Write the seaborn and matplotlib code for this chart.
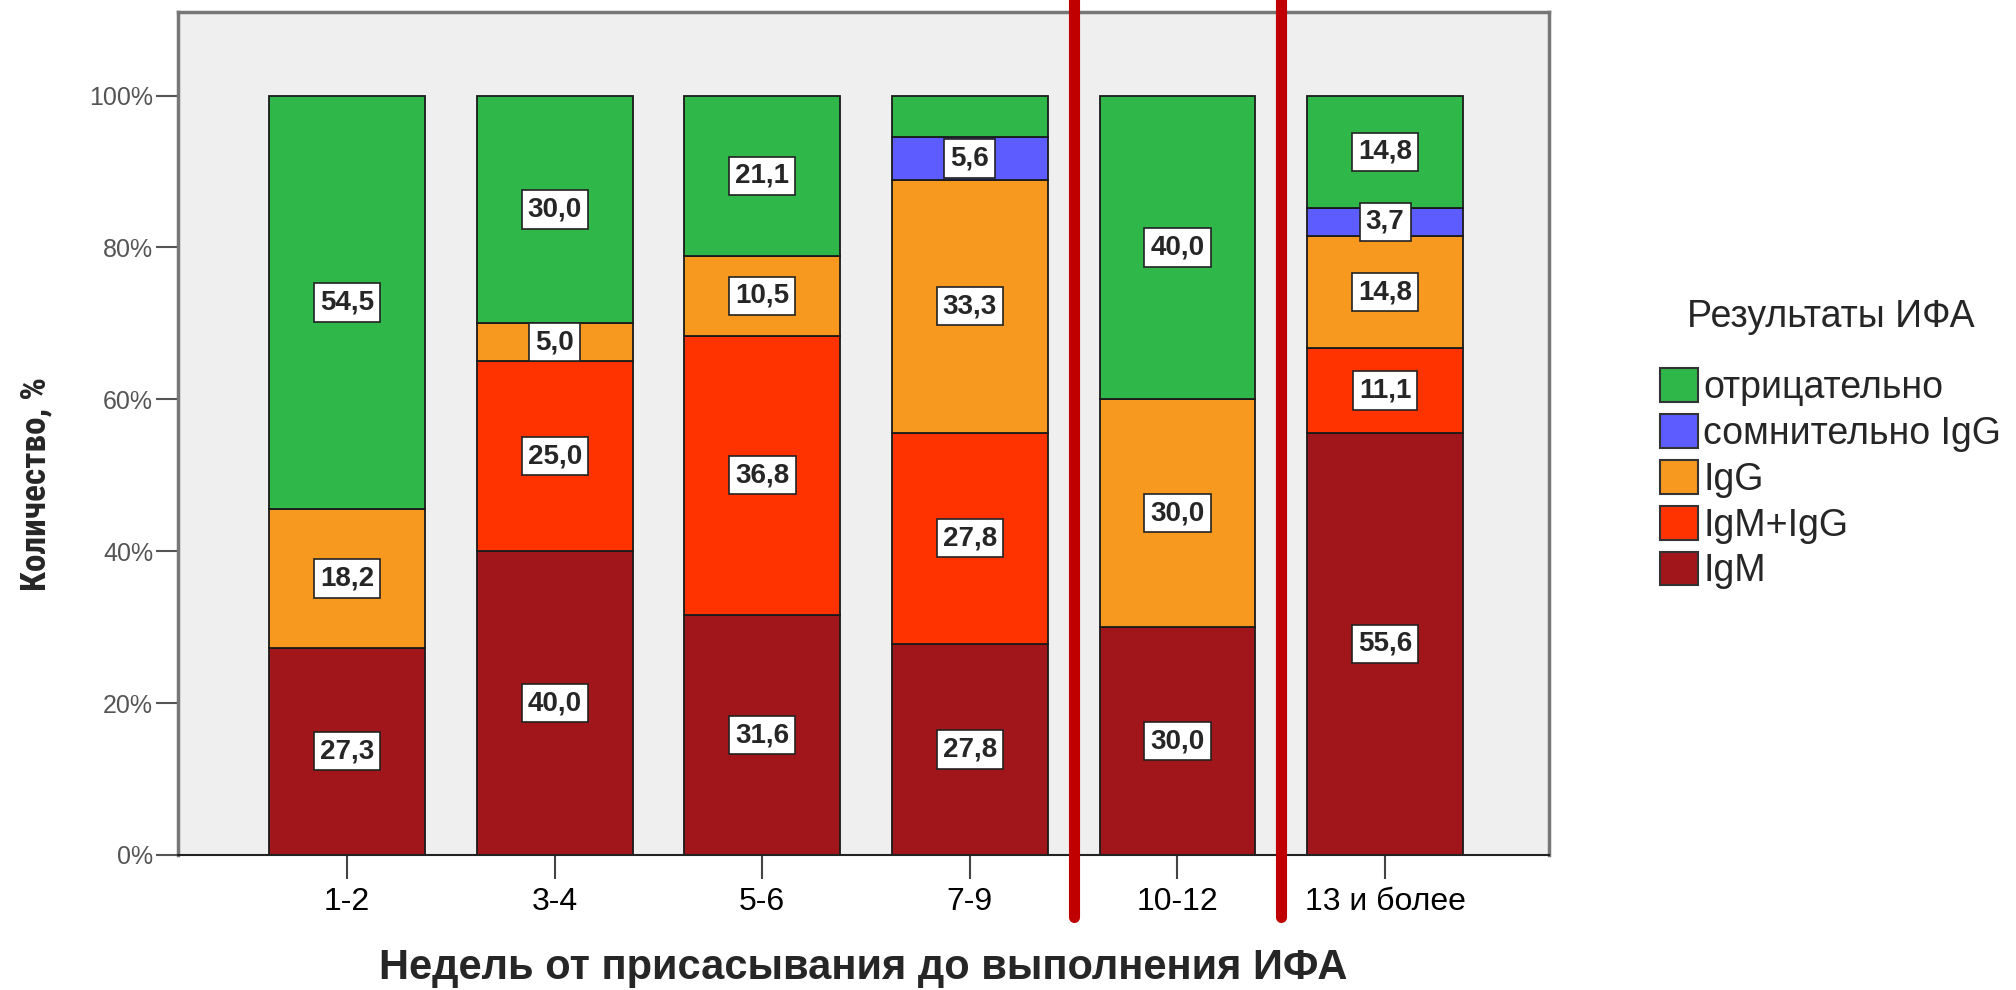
import numpy as np
import pandas as pd
import matplotlib
matplotlib.use('Agg')
import matplotlib.pyplot as plt
import seaborn as sns
from matplotlib.patches import Patch
from matplotlib.ticker import PercentFormatter
from matplotlib import font_manager

# data (percent within each week group)
weeks = ['1-2', '3-4', '5-6', '7-9', '10-12', '13 и более']
igm = [27.3, 40.0, 31.6, 27.8, 30.0, 55.6]
igm_igg = [0.0, 25.0, 36.8, 27.8, 0.0, 11.1]
igg = [18.2, 5.0, 10.5, 33.3, 30.0, 14.8]
doubtful = [0.0, 0.0, 0.0, 5.6, 0.0, 3.7]
negative = [54.5, 30.0, 21.1, 5.5, 40.0, 14.8]

layers = ['IgM', 'IgM+IgG', 'IgG', 'сомнительно IgG', 'отрицательно']
values = [igm, igm_igg, igg, doubtful, negative]
colors = ['#a0161a', '#ff3300', '#f7981f', '#5c5cff', '#2fb74a']
hidden_labels = [('7-9', 'отрицательно')]  # too small, not labelled in source
separators = [3.5, 4.5]

sns.set_style('white')
plt.rcParams['font.family'] = ['Liberation Sans', 'DejaVu Sans']

# the y label in the source is set in a narrow bold face; use one if installed
installed = {f.name for f in font_manager.fontManager.ttflist}
narrow = None
for cand in ['Liberation Sans Narrow', 'Roboto Condensed', 'Open Sans Condensed']:
    if cand in installed:
        narrow = cand
        break

fig = plt.figure(figsize=(20.16, 9.9), dpi=100)
ax = fig.add_axes([178 / 2016, 1 - 855 / 990, (1549 - 178) / 2016, (855 - 12) / 990])
ax.set_facecolor('#efefef')

bottom = np.zeros(len(weeks))
for name, vals, col in zip(layers, values, colors):
    vals = np.array(vals)
    sns.barplot(x=weeks, y=vals, bottom=bottom, color=col, width=0.75,
                edgecolor='#1a1a1a', linewidth=1.3, saturation=1, ax=ax)
    for i, v in enumerate(vals):
        if v <= 0 or (weeks[i], name) in hidden_labels:
            continue
        ax.text(i, bottom[i] + v / 2, f'{v:.1f}'.replace('.', ','),
                ha='center', va='center', fontsize=20, fontweight='bold',
                bbox=dict(boxstyle='square,pad=0.22', fc='white', ec='#222', lw=1.2))
    bottom += vals

for xs in separators:
    ax.axvline(xs, ymin=-0.0735, ymax=1.02, color='#c00000', lw=8, clip_on=False, zorder=10)

ax.set_xlim(-0.815, 5.79)
ax.set_ylim(0, 111)
ax.set_yticks([0, 20, 40, 60, 80, 100])
ax.yaxis.set_major_formatter(PercentFormatter(decimals=0))
ax.tick_params(axis='y', labelsize=18, labelcolor='#555555', color='#555555',
               length=16, width=1.5, direction='out', left=True, pad=2)
ax.tick_params(axis='x', labelsize=23, labelcolor='black', color='#444444',
               length=17, width=1.5, direction='out', bottom=True, pad=6)

for side in ['left', 'top', 'right']:
    ax.spines[side].set_color('#777777')
    ax.spines[side].set_linewidth(2.5)
ax.spines['bottom'].set_color('#222222')
ax.spines['bottom'].set_linewidth(1.5)

ax.set_xlabel('Недель от присасывания до выполнения ИФА', fontsize=30,
              fontweight='bold', labelpad=22)

if narrow:
    ylab = ax.set_ylabel('Количество, %', fontsize=30, fontweight='bold',
                         family=[narrow, 'DejaVu Sans'])
    fig.canvas.draw()
    ylab.set_fontsize(30 * 214 / ylab.get_window_extent().height)
else:
    ylab = ax.set_ylabel('Количество, %', fontsize=23.5, fontweight='bold')
ax.yaxis.set_label_coords((52 - 178) / 1371, (855 - 484) / 843)

handles = [Patch(facecolor=c, edgecolor='#333333', lw=1.5) for c in colors[::-1]]
leg = fig.legend(handles, layers[::-1], title='Результаты ИФА', loc='upper left',
                 bbox_to_anchor=(1660 / 2016, 1 - 299 / 990), frameon=False,
                 fontsize=27, title_fontsize=27, handlelength=1.0, handleheight=1.0,
                 handletextpad=0.15, labelspacing=0.22, borderaxespad=0, borderpad=0)
leg._legend_box.sep = 24

fig.savefig('out.png', dpi=100)
